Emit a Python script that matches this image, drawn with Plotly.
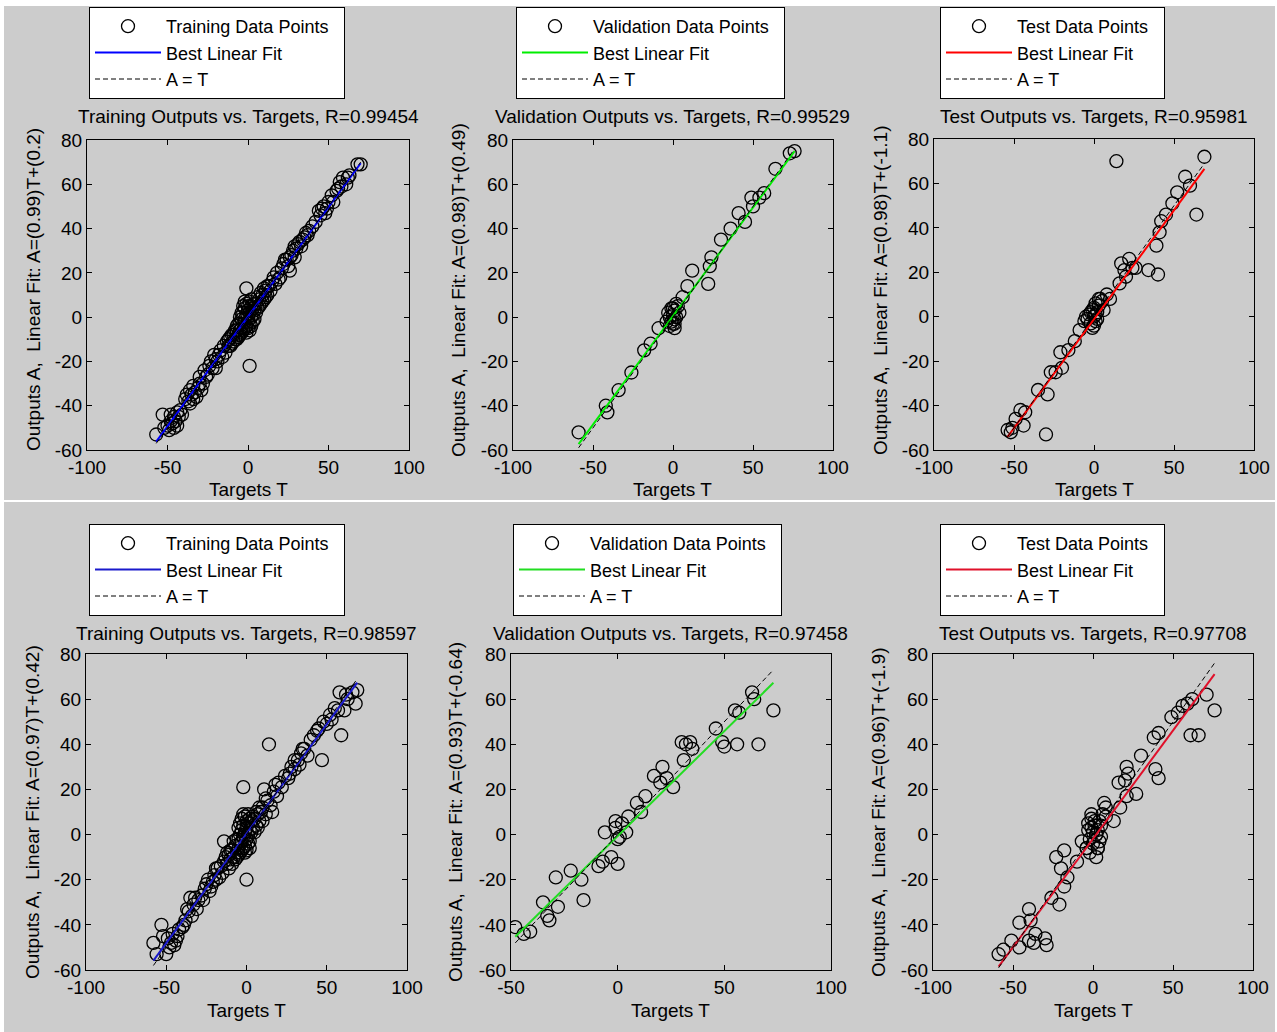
import plotly.graph_objects as go

W, H = 1277, 1032
FONT = "Arial, 'Liberation Sans', Helvetica, sans-serif"

# ---------------- data ----------------
# Panel 1: Training (top)
train1_T = [-57, -53, -52, -50, -49, -48, -47, -46, -45, -44, -43, -42, -41,
            -39, -37, -36, -35, -34, -33, -32, -31, -30, -28,
            -27, -26, -25, -24, -22, -21, -20, -19, -18, -17, -16,
            -15, -14, -13, -12, -11, -10, -9, -8, -7, -6, -5, -5, -4, -4, -3, -3, -2, -2, -1, -1,
            0, 0, 0, 1, 1, 2, 2, 3, 3, 4, 5, 6, 7, 8, 9, 10, 11, 12, 13, 14, 15, 16, 17, 18, 19,
            21, 22, 24, 25, 26, 27, 28, 29, 30, 31, 32, 33, 35, 36, 38, 40, 42, 44, 45, 46, 48,
            50, 52, 55, 57, 59, 61, 63, 68, 70, -1, 1,
            -12, -11, -10, -9, -8, -7, -7, -6, -6, -5, -5, -4, -4, -3, -3, -2, -2, -1, -1, 0, 0,
            1, 1, 2, 2, 3, 4, 4, 5, 6, 7, 8, 9, 10, 11, 12, -48, -46, -44, -38, -36, -34, -30,
            -29, -23, -20, 20, 23, 26, 29, 34, 37, 47, 49, 53, 56, 58, 62]
train1_A = [-53, -44, -50, -49, -51, -47, -48, -45, -47, -43, -45, -42, -44,
            -37, -38, -33, -35, -31, -34, -36, -32, -30, -30,
            -24, -27, -26, -22, -23, -17, -19, -20, -17, -15, -18,
            -13, -16, -11, -13, -9, -12, -8, -10, -6, -8, -3, -6, -1, -5, 2, -3, 4, -1, 1, -4,
            3, -2, 0, 2, -3, 5, 0, 1, 4, -1, 6, 4, 8, 6, 10, 8, 12, 10, 14, 12, 16, 18, 15, 20, 17,
            22, 24, 26, 23, 21, 28, 30, 27, 31, 33, 34, 32, 36, 38, 39, 41, 43, 48, 46, 49, 47,
            52, 55, 57, 61, 63, 60, 64, 69, 69, 13, -22,
            -10, -13, -8, -11, -6, -10, -4, -3, -9, -8, 0, -7, 2, -6, 5, -5, 7, -7, 6, 5, -5,
            7, -6, -4, 8, -2, 6, 3, 2, 9, 5, 11, 7, 13, 9, 14, -44, -50, -49, -35, -39, -37, -27,
            -33, -20, -23, 18, 26, 27, 32, 35, 37, 50, 49, 52, 58, 59, 63]

# Panel 2: Validation (top)
val1_T = [-59, -42, -41, -34, -26, -18, -14, -9, -4, -3, -2, -1, 0, 0, 1, 1, 2, 3, 4, -2, 1,
          6, 9, 12, 22, 23, 24, 30, 36, 41, 45, 49, 50, 54, 57, 64, 73, 76, 0, -1, 2, 1]
val1_A = [-52, -40, -43, -33, -25, -15, -12, -5, -2, 2, 0, 4, -3, 1, 3, -1, 0, 5, 2, -4, -5,
          9, 14, 21, 15, 23, 27, 35, 40, 47, 43, 54, 50, 54, 56, 67, 74, 75, 4, -2, 6, -3]

# Panel 3: Test (top)
test1_T = [-54, -52, -51, -49, -46, -44, -43, -35, -30, -29, -27, -24, -20, -21, -16, -12, -9,
           -6, -4, -3, -2, -1, 0, 0, 1, 1, 2, 3, 4, 5, 6, 8, 10, 14, 16, 17, 19, 20, 22, 24,
           26, 34, 39, 40, 41, 42, 45, 49, 52, 57, 60, 64, 69, -5, -2, 0, 2, 3, 1, -1]
test1_A = [-51, -52, -50, -46, -42, -49, -43, -33, -53, -35, -25, -25, -23, -16, -15, -11, -6,
           -2, -1, 1, -3, 3, 0, 4, -2, 6, 2, 5, 8, 7, 3, 10, 8, 70, 15, 24, 21, 18, 26, 22,
           22, 21, 32, 19, 38, 43, 46, 51, 56, 63, 59, 46, 72, 0, 2, -4, -1, 8, 1, -5]

# Panel 4: Training (bottom)
train2_T = [-58, -56, -53, -50, -49, -47, -46, -45, -44, -42, -40, -38, -36, -35, -34, -33, -32,
            -31, -30, -28, -26, -24, -23, -22, -21, -20, -19, -18, -17, -16, -15, -14, -14, -13,
            -12, -11, -10, -9, -8, -7, -6, -5, -5, -4, -4, -3, -3, -2, -2, -2, -1, -1, 0, 0, 0,
            1, 1, 2, 2, 3, 4, 5, 6, 7, 8, 9, 10, 11, 12, 13, 14, 15, 16, 17, 18, 19, 20, 22, 24,
            26, 27, 28, 30, 32, 34, 36, 38, 40, 42, 44, 47, 48, 50, 52, 55, 58, 59, 61, 63, 66,
            68, 69,
            -12, -11, -10, -9, -8, -7, -6, -6, -5, -5, -4, -4, -3, -3, -2, -2, -1, -1, 0, 0, 1,
            1, 2, 2, 3, 4, 5, 6, 7, 8, 10, 12, -52, -48, -43, -39, -37, -27, -25, -19, 30, 33,
            35, 45, 53, 57, 62]
train2_A = [-48, -53, -40, -53, -46, -48, -44, -49, -47, -42, -41, -38, -34, -28, -36, -31, -28,
            -33, -29, -27, -24, -20, -25, -23, -21, -18, -20, -15, -19, -14, -17, -3, -12, -10,
            -13, -9, -11, -7, -10, -5, -8, -2, -6, 0, -4, 2, -3, 4, -1, 21, 1, -5, 3, -2, -20,
            5, 0, 2, -3, 6, 3, 7, 4, 9, 6, 10, 12, 20, 9, 15, 40, 13, 10, 19, 22, 17, 23, 21, 26,
            25, 27, 30, 29, 33, 36, 38, 35, 42, 44, 46, 33, 50, 49, 53, 56, 63, 44, 55, 60, 63,
            58, 64,
            -8, -15, -7, -13, -3, -11, -2, -10, -9, 3, -8, 5, -7, 7, -6, 9, -8, 8, 6, -7, 9,
            -4, 7, -6, 1, 8, 1, 10, 3, 12, 6, 16, -45, -50, -45, -40, -33, -29, -22, -15, 33, 31,
            38, 47, 51, 55, 62]

# Panel 5: Validation (bottom)
val2_T = [-48, -44, -41, -35, -33, -32, -28, -29, -22, -17, -16, -9, -7, -3, 0, -6, -1, -1, 0,
          1, 2, 4, 5, 9, 11, 13, 17, 20, 21, 23, 26, 30, 31, 32, 34, 35, 46, 49, 50, 55, 56,
          57, 63, 64, 66, 73]
val2_A = [-41, -44, -43, -30, -36, -38, -32, -19, -16, -20, -29, -14, -12, -10, -13, 1, 6, 3,
          -2, -1, 5, 1, 8, 14, 10, 17, 26, 23, 30, 25, 21, 41, 33, 40, 41, 38, 47, 41, 39, 55,
          40, 54, 63, 60, 40, 55]

# Panel 6: Test (bottom)
test2_T = [-59, -56, -51, -46, -46, -40, -39, -40, -36, -37, -30, -29, -26, -21, -23, -18, -20,
           -18, -16, -10, -7, -4, -3, -2, -1, -1, 0, 0, 1, 2, 2, 3, 3, 4, 5, 7, 8, 8, 13, 17,
           16, 20, 21, 21, 22, 27, 30, 38, 39, 41, 41, 49, 53, 56, 59, 61, 62, 66, 71, 76,
           -4, 2, -1, 3, -3, 1, 4, -2, 5, 6]
test2_A = [-53, -51, -47, -50, -39, -33, -38, -47, -44, -48, -46, -49, -28, -31, -10, -7, -15,
           -23, -19, -12, -3, -6, 5, -2, 3, 7, 1, -4, 6, -10, 0, 2, -6, -3, 4, 14, 8, 12, 6, 12,
           23, 24, 30, 17, 27, 18, 35, 43, 29, 25, 45, 52, 54, 57, 58, 44, 60, 44, 62, 55,
           -6, 0, 9, -6, 2, 4, 6, -8, -1, 9]

# fit coefficients (slope, intercept) and R values
slopes = [0.99, 0.98, 0.98, 0.97, 0.93, 0.96]
intercepts = [0.2, 0.49, -1.1, 0.42, -0.64, -1.9]
r_values = ["0.99454", "0.99529", "0.95981", "0.98597", "0.97458", "0.97708"]
set_names = ["Training", "Validation", "Test", "Training", "Validation", "Test"]
fit_colors = ["#0000ff", "#00ee00", "#ff0000", "#1a1acc", "#22dd22", "#e0102a"]
intercept_labels = ["0.2", "0.49", "-1.1", "0.42", "-0.64", "-1.9"]

x_ticks_std = [-100, -50, 0, 50, 100]
x_ticklabels_std = ["-100", "-50", "0", "50", "100"]
x_ticks_val2 = [-50, 0, 50, 100]
x_ticklabels_val2 = ["-50", "0", "50", "100"]
y_ticks = [-60, -40, -20, 0, 20, 40, 60, 80]
y_ticklabels = ["-60", "-40", "-20", "0", "20", "40", "60", "80"]

targets = [train1_T, val1_T, test1_T, train2_T, val2_T, test2_T]
outputs = [train1_A, val1_A, test1_A, train2_A, val2_A, test2_A]

# ---------------- layout geometry (pixels) ----------------
plot_boxes = [(87, 409, 140, 450), (513, 833, 140, 450), (934, 1254, 139, 450),
              (86, 407, 654, 970), (511, 831, 654, 970), (933, 1253, 654, 970)]
legend_pos = [(89, 7), (516, 7), (940, 7), (89, 524), (513, 524), (940, 524)]
title_y = [117, 117, 117, 633, 633, 633]
xlabel_y = [490, 490, 490, 1010, 1010, 1010]
ylabel_x = [33, 458, 880, 32, 455, 878]
ylabel_y = [290, 290, 290, 812, 812, 812]
x_ranges = [[-100, 100]] * 4 + [[-50, 100]] + [[-100, 100]]

NB = "\u00a0"


def px(x):
    return x / W


def py(y):
    return 1 - y / H


fig = go.Figure()
layout = dict(
    width=W, height=H, margin=dict(l=0, r=0, t=0, b=0, pad=0, autoexpand=False),
    paper_bgcolor="white", plot_bgcolor="white",
    font=dict(family=FONT, size=19, color="black"),
    showlegend=True,
)
annotations = []
shapes = [
    dict(type="rect", xref="paper", yref="paper", x0=px(4), x1=px(1275), y0=py(500), y1=py(6),
         fillcolor="#cccccc", line=dict(width=0), layer="below"),
    dict(type="rect", xref="paper", yref="paper", x0=px(4), x1=px(1275), y0=py(1032), y1=py(502),
         fillcolor="#cccccc", line=dict(width=0), layer="below"),
]

for i in range(6):
    n = i + 1
    xs = "x" if n == 1 else f"x{n}"
    ys = "y" if n == 1 else f"y{n}"
    lg = "legend" if n == 1 else f"legend{n}"
    T = targets[i]
    A = outputs[i]
    tmin, tmax = min(T), max(T)
    fit_x = [tmin, tmax]
    fit_y = [slopes[i] * tmin + intercepts[i], slopes[i] * tmax + intercepts[i]]

    fig.add_trace(go.Scatter(
        x=T, y=A, mode="markers", xaxis=xs, yaxis=ys, legend=lg,
        name=f"{set_names[i]} Data Points{NB}{NB}",
        marker=dict(symbol="circle-open", size=13, color="black", line=dict(width=1.3, color="black")),
    ))
    fig.add_trace(go.Scatter(
        x=fit_x, y=fit_y, mode="lines", xaxis=xs, yaxis=ys, legend=lg,
        name="Best Linear Fit", line=dict(color=fit_colors[i], width=2),
    ))
    fig.add_trace(go.Scatter(
        x=fit_x, y=fit_x, mode="lines", xaxis=xs, yaxis=ys, legend=lg,
        name="A = T", line=dict(color="black", width=1, dash="5px,3px"),
    ))

    x0, x1, y0, y1 = plot_boxes[i]
    axis_common = dict(
        showline=True, linecolor="black", linewidth=1, mirror="allticks",
        ticks="inside", ticklen=5, tickcolor="black", tickwidth=1,
        showgrid=False, zeroline=False, fixedrange=True, automargin=False,
        tickfont=dict(family=FONT, size=19, color="black"),
    )
    layout["xaxis" if n == 1 else f"xaxis{n}"] = dict(
        axis_common, domain=[px(x0), px(x1)], anchor=ys, range=x_ranges[i],
        tickvals=x_ticks_val2 if i == 4 else x_ticks_std,
        ticktext=x_ticklabels_val2 if i == 4 else x_ticklabels_std,
    )
    layout["yaxis" if n == 1 else f"yaxis{n}"] = dict(
        axis_common, domain=[py(y1), py(y0)], anchor=xs, range=[-60, 80],
        tickvals=y_ticks, ticktext=y_ticklabels,
    )
    lx, ly = legend_pos[i]
    layout[lg] = dict(
        x=px(lx), y=py(ly), xanchor="left", yanchor="top",
        bgcolor="white", bordercolor="black", borderwidth=1,
        font=dict(family=FONT, size=18, color="black"),
        itemwidth=66, traceorder="normal", tracegroupgap=0,
    )
    cx = (x0 + x1) / 2
    annotations.append(dict(
        text=f"{set_names[i]} Outputs vs. Targets, R={r_values[i]}",
        xref="paper", yref="paper", x=px(cx), y=py(title_y[i]),
        xanchor="center", yanchor="middle", showarrow=False,
        font=dict(family=FONT, size=19, color="black"),
    ))
    annotations.append(dict(
        text="Targets T", xref="paper", yref="paper", x=px(cx), y=py(xlabel_y[i]),
        xanchor="center", yanchor="middle", showarrow=False,
        font=dict(family=FONT, size=19, color="black"),
    ))
    annotations.append(dict(
        text=f"Outputs A,{NB} Linear Fit: A=({slopes[i]:.2f})T+({intercept_labels[i]})",
        xref="paper", yref="paper", x=px(ylabel_x[i]), y=py(ylabel_y[i]),
        xanchor="center", yanchor="middle", showarrow=False, textangle=-90,
        font=dict(family=FONT, size=19, color="black"),
    ))

layout["annotations"] = annotations
layout["shapes"] = shapes
fig.update_layout(**layout)
fig.write_html("out.html")
